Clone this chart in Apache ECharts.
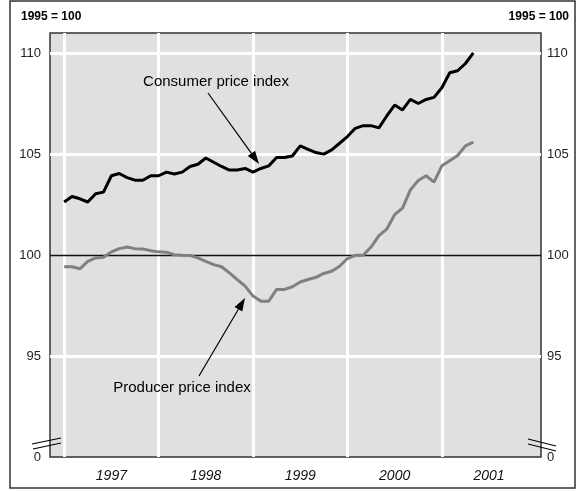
<!DOCTYPE html>
<html>
<head>
<meta charset="utf-8">
<script src="https://cdn.jsdelivr.net/npm/echarts@6/dist/echarts.min.js"></script>
<style>
html, body { margin: 0; padding: 0; background: #fff; }
#chart { width: 576px; height: 491px; }
</style>
</head>
<body>
<div id="chart"></div>
<script>
// Monthly price indices, January 1997 to May 2001 (1995 = 100)
const cpi = [
  102.63, 102.90, 102.79, 102.63, 103.04, 103.12, 103.93, 104.04, 103.84, 103.71, 103.71, 103.93,
  103.93, 104.11, 104.02, 104.11, 104.39, 104.50, 104.81, 104.60, 104.39, 104.21, 104.21, 104.29,
  104.11, 104.29, 104.42, 104.83, 104.83, 104.91, 105.41, 105.24, 105.08, 105.00, 105.21, 105.54,
  105.87, 106.28, 106.41, 106.41, 106.30, 106.89, 107.43, 107.19, 107.71, 107.51, 107.71, 107.81,
  108.29, 109.03, 109.13, 109.49, 110.02
];
const ppi = [
  99.42, 99.42, 99.32, 99.69, 99.86, 99.89, 100.16, 100.32, 100.40, 100.32, 100.30, 100.22,
  100.16, 100.14, 100.02, 99.99, 99.98, 99.86, 99.69, 99.53, 99.42, 99.12, 98.79, 98.46,
  97.97, 97.72, 97.72, 98.30, 98.30, 98.43, 98.67, 98.79, 98.90, 99.09, 99.20, 99.45,
  99.83, 99.99, 99.99, 100.40, 100.96, 101.29, 102.00, 102.33, 103.23, 103.69, 103.93, 103.61,
  104.42, 104.67, 104.93, 105.41, 105.59
];
const yearLabels = ['1997', '1998', '1999', '2000', '2001'];
const yearStarts = [0, 12, 24, 36, 48];       // month offsets of each January
const yearMids = [6, 18, 30, 42, 54];         // where the year names sit
const whiteGridValues = [95, 105, 110];
const baseValue = 100;
const seriesNames = ['Consumer price index', 'Producer price index'];
const unitNote = '1995 = 100';

const toPoints = arr => arr.map((v, i) => [i, v]);

const chart = echarts.init(document.getElementById('chart'), null, { renderer: 'canvas' });

const FONT = 'Liberation Sans, Arial, sans-serif';

// simple filled arrow from (x1,y1) to tip (x2,y2)
function arrow(x1, y1, x2, y2) {
  const ang = Math.atan2(y2 - y1, x2 - x1);
  const len = 13, half = 4.5;
  const bx = x2 - len * Math.cos(ang), by = y2 - len * Math.sin(ang);
  const px = -Math.sin(ang) * half, py = Math.cos(ang) * half;
  return [
    { type: 'line', shape: { x1, y1, x2: bx, y2: by }, style: { stroke: '#000', lineWidth: 1.2 }, z: 100 },
    { type: 'polygon', shape: { points: [[x2, y2], [bx + px, by + py], [bx - px, by - py]] }, style: { fill: '#000' }, z: 100 }
  ];
}

const yLabelFmt = v => (v === 90 ? '0' : (v % 5 === 0 ? String(v) : ''));

const option = {
  animation: false,
  backgroundColor: '#fff',
  grid: {
    left: 50, right: 35, top: 33, bottom: 34,
    show: true, backgroundColor: '#e0e0e0', borderColor: '#333', borderWidth: 1.5
  },
  xAxis: {
    type: 'value', min: -1.8, max: 60.6,
    axisLine: { show: false }, axisTick: { show: false }, splitLine: { show: false },
    axisLabel: {
      customValues: yearMids,
      formatter: v => yearLabels[yearMids.indexOf(v)] || '',
      fontStyle: 'italic', fontFamily: FONT, fontSize: 14, color: '#111', margin: 12
    }
  },
  yAxis: [
    {
      type: 'value', min: 90, max: 111, interval: 5, position: 'left',
      axisLine: { show: false }, axisTick: { show: false }, splitLine: { show: false },
      axisLabel: { formatter: yLabelFmt, fontFamily: FONT, fontSize: 13, color: '#222', margin: 9, showMaxLabel: false }
    },
    {
      type: 'value', min: 90, max: 111, interval: 5, position: 'right',
      axisLine: { show: false }, axisTick: { show: false }, splitLine: { show: false },
      axisLabel: { formatter: yLabelFmt, fontFamily: FONT, fontSize: 13, color: '#222', margin: 6, showMaxLabel: false }
    }
  ],
  series: [
    {
      // grid lines behind the data
      type: 'line', data: [], z: 1, silent: true,
      markLine: {
        z: 1, silent: true, symbol: 'none', label: { show: false }, animation: false,
        data: [
          ...yearStarts.map(x => ({ xAxis: x, lineStyle: { color: '#fff', width: 3, type: 'solid' } })),
          ...whiteGridValues.map(y => ({ yAxis: y, lineStyle: { color: '#fff', width: 3, type: 'solid' } })),
          { yAxis: baseValue, lineStyle: { color: '#111', width: 1.3, type: 'solid' } }
        ]
      }
    },
    {
      name: seriesNames[1], type: 'line', data: toPoints(ppi), z: 3,
      showSymbol: false, lineStyle: { color: '#808080', width: 3 }
    },
    {
      name: seriesNames[0], type: 'line', data: toPoints(cpi), z: 4,
      showSymbol: false, lineStyle: { color: '#000', width: 3 }
    }
  ],
  graphic: [
    // outer frame
    { type: 'rect', shape: { x: 10, y: 1, width: 565, height: 487 }, style: { fill: 'none', stroke: '#333', lineWidth: 1.5 }, z: 100 },
    { type: 'text', left: 21, top: 11, style: { text: unitNote, font: 'bold 12px ' + FONT, fill: '#000' }, z: 100 },
    { type: 'text', right: 7, top: 11, style: { text: unitNote, font: 'bold 12px ' + FONT, fill: '#000' }, z: 100 },
    // axis break marks
    { type: 'line', shape: { x1: 32, y1: 444, x2: 61, y2: 438 }, style: { stroke: '#000', lineWidth: 1.2 }, z: 100 },
    { type: 'line', shape: { x1: 33, y1: 449, x2: 61, y2: 443 }, style: { stroke: '#000', lineWidth: 1.2 }, z: 100 },
    { type: 'line', shape: { x1: 528, y1: 439, x2: 556, y2: 446 }, style: { stroke: '#000', lineWidth: 1.2 }, z: 100 },
    { type: 'line', shape: { x1: 528, y1: 444, x2: 556, y2: 451 }, style: { stroke: '#000', lineWidth: 1.2 }, z: 100 },
    // annotations
    { type: 'text', x: 216, y: 82, style: { text: seriesNames[0], font: '15px ' + FONT, fill: '#000', align: 'center', verticalAlign: 'middle' }, z: 100 },
    ...arrow(208, 93, 259, 164),
    { type: 'text', x: 182, y: 388, style: { text: seriesNames[1], font: '15px ' + FONT, fill: '#000', align: 'center', verticalAlign: 'middle' }, z: 100 },
    ...arrow(199, 376, 245, 298)
  ]
};

chart.setOption(option);
</script>
</body>
</html>
